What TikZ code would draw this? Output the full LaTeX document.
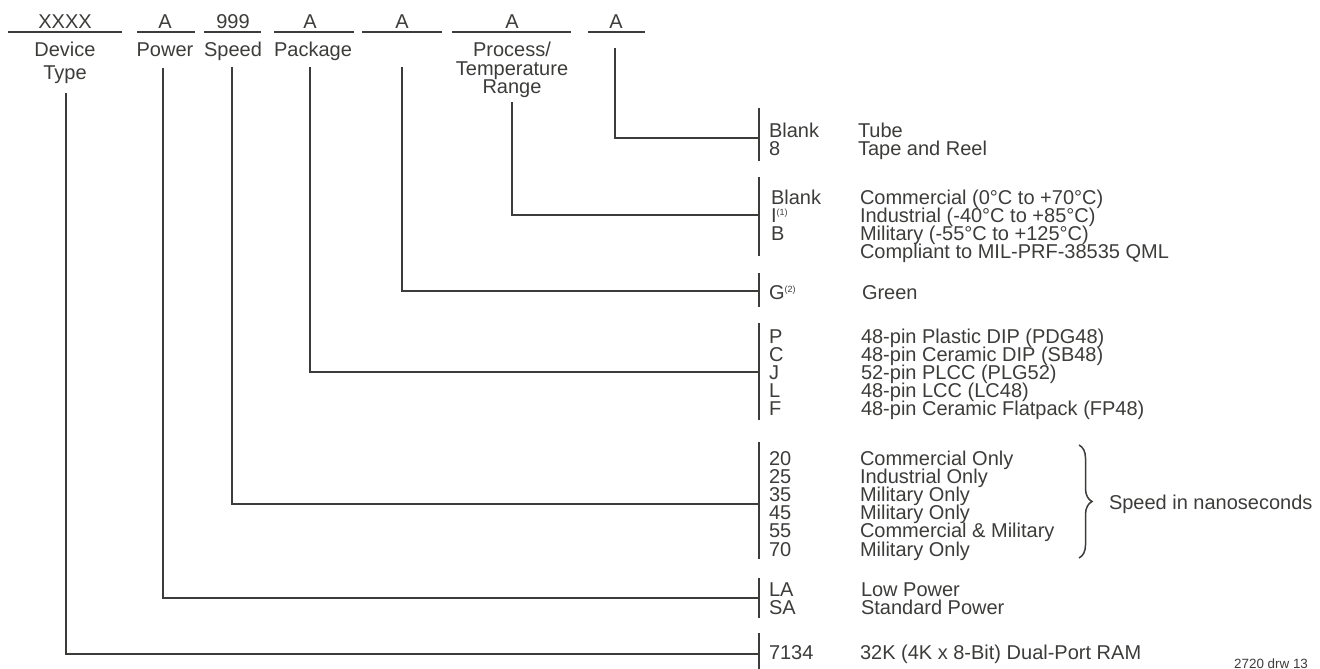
\documentclass[tikz,border=0pt]{standalone}
\usepackage{fontspec}
\setmainfont{Liberation Sans}
\usetikzlibrary{decorations.pathreplacing}
\definecolor{ink}{RGB}{60,60,58}
\newcommand{\supmark}[1]{\raisebox{6.5pt}{\fontsize{9}{9}\selectfont #1}}
\begin{document}
\begin{tikzpicture}[x=1pt,y=-1pt,
  txt/.style={font=\fontsize{20}{18}\selectfont, text=ink, inner sep=0pt, outer sep=0pt, anchor=base west},
  ctxt/.style={txt, anchor=base},
  small/.style={font=\fontsize{13.4}{14}\selectfont, text=ink, inner sep=0pt, anchor=base west},
  ln/.style={draw=ink, line width=1.6pt},
  bar/.style={draw=ink, line width=1.8pt}]
\useasboundingbox (0,0) rectangle (1320,669);

% ---------- header fields ----------
\node[ctxt] (hDev) at (65,29) {XXXX};
\node[ctxt] (hPow) at (165,29) {A};
\node[ctxt] (hSpd) at (233,29) {999};
\node[ctxt] (hPkg) at (310,29) {A};
\node[ctxt] (hGrn) at (402,29) {A};
\node[ctxt] (hPrc) at (512,29) {A};
\node[ctxt] (hTub) at (616,29) {A};
\draw[ln] (8,32) -- (122,32);
\draw[ln] (137,32) -- (195,32);
\draw[ln] (204,32) -- (261,32);
\draw[ln] (274,32) -- (354,32);
\draw[ln] (362,32) -- (442,32);
\draw[ln] (452,32) -- (571,32);
\draw[ln] (588,32) -- (645,32);

\node[ctxt] (lDev1) at (65,57) {Device};
\node[ctxt] (lDev2) at (65,79) {Type};
\node[ctxt] (lPow) at (165,57) {Power};
\node[ctxt] (lSpd) at (233,57) {Speed};
\node[ctxt] (lPkg) at (313,57) {Package};
\node[ctxt] (lPrc1) at (512,57) {Process/};
\node[ctxt] (lPrc2) at (512,75) {Temperature};
\node[ctxt] (lPrc3) at (512,93) {Range};

% ---------- connector start points ----------
\coordinate (sDev) at (66,93);
\coordinate (sPow) at (163,68);
\coordinate (sSpd) at (232,67);
\coordinate (sPkg) at (310,67);
\coordinate (sGrn) at (402,67);
\coordinate (sPrc) at (512,102);
\coordinate (sTub) at (615,48);

% ---------- bars (option groups) ----------
\coordinate (bTub) at (759,138);
\coordinate (bPrc) at (759,215);
\coordinate (bGrn) at (759,291);
\coordinate (bPkg) at (759,372);
\coordinate (bSpd) at (759,504);
\coordinate (bPow) at (759,598);
\coordinate (bDev) at (759,654);

\draw[bar] (759,108) -- (759,161);
\draw[bar] (759,177) -- (759,256);
\draw[bar] (759,273) -- (759,307);
\draw[bar] (759,323) -- (759,420);
\draw[bar] (759,442) -- (759,559);
\draw[bar] (759,578) -- (759,618);
\draw[bar] (759,633) -- (759,669);

% ---------- connectors ----------
\draw[ln] (sTub) |- (bTub);
\draw[ln] (sPrc) |- (bPrc);
\draw[ln] (sGrn) |- (bGrn);
\draw[ln] (sPkg) |- (bPkg);
\draw[ln] (sSpd) |- (bSpd);
\draw[ln] (sPow) |- (bPow);
\draw[ln] (sDev) |- (bDev);

% ---------- packing ----------
\node[txt] (cT1) at (769,137) {Blank};
\node[txt] (cT2) at (769,155) {8};
\node[txt] (dT1) at (858,137) {Tube};
\node[txt] (dT2) at (858,155) {Tape and Reel};

% ---------- process / temperature ----------
\node[txt] (cP1) at (771,204) {Blank};
\node[txt] (cP2) at (771,222) {I\supmark{(1)}};
\node[txt] (cP3) at (771,240) {B};
\node[txt] (dP1) at (860,204) {Commercial (0°C to +70°C)};
\node[txt] (dP2) at (860,222) {Industrial (-40°C to +85°C)};
\node[txt] (dP3) at (860,240) {Military (-55°C to +125°C)};
\node[txt] (dP4) at (860,258) {Compliant to MIL-PRF-38535 QML};

% ---------- green ----------
\node[txt] (cG) at (769,299) {G\supmark{(2)}};
\node[txt] (dG) at (862,299) {Green};

% ---------- package ----------
\node[txt] (cK1) at (769,343) {P};
\node[txt] (cK2) at (769,361) {C};
\node[txt] (cK3) at (769,379) {J};
\node[txt] (cK4) at (769,397) {L};
\node[txt] (cK5) at (769,415) {F};
\node[txt] (dK1) at (861,343) {48-pin Plastic DIP (PDG48)};
\node[txt] (dK2) at (861,361) {48-pin Ceramic DIP (SB48)};
\node[txt] (dK3) at (861,379) {52-pin PLCC (PLG52)};
\node[txt] (dK4) at (861,397) {48-pin LCC (LC48)};
\node[txt] (dK5) at (861,415) {48-pin Ceramic Flatpack (FP48)};

% ---------- speed ----------
\node[txt] (cS1) at (769,465) {20};
\node[txt] (cS2) at (769,483.2) {25};
\node[txt] (cS3) at (769,501.4) {35};
\node[txt] (cS4) at (769,519.6) {45};
\node[txt] (cS5) at (769,537.8) {55};
\node[txt] (cS6) at (769,556) {70};
\node[txt] (dS1) at (860,465) {Commercial Only};
\node[txt] (dS2) at (860,483.2) {Industrial Only};
\node[txt] (dS3) at (860,501.4) {Military Only};
\node[txt] (dS4) at (860,519.6) {Military Only};
\node[txt] (dS5) at (860,537.8) {Commercial \& Military};
\node[txt] (dS6) at (860,556) {Military Only};
\coordinate (brT) at (1079,445);
\coordinate (brB) at (1079,558);
\draw[draw=ink, line width=1.5pt, decorate, decoration={brace, amplitude=13pt}] (brT) -- (brB);
\node[txt] (spd) at (1109,509) {Speed in nanoseconds};

% ---------- power ----------
\node[txt] (cW1) at (769,596) {LA};
\node[txt] (cW2) at (769,614) {SA};
\node[txt] (dW1) at (861,596) {Low Power};
\node[txt] (dW2) at (861,614) {Standard Power};

% ---------- device ----------
\node[txt] (cD) at (769,659) {7134};
\node[txt] (dD) at (860,659) {32K (4K x 8-Bit) Dual-Port RAM};

\node[small] (drw) at (1234,668) {2720 drw 13};
\end{tikzpicture}
\end{document}
